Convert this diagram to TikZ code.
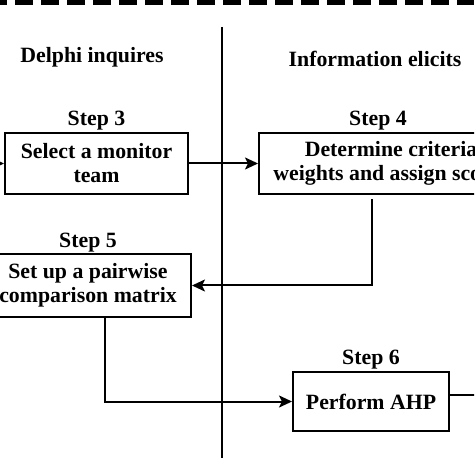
\documentclass[tikz,border=0pt]{standalone}
\usepackage{fontspec}
\setmainfont{Liberation Serif}
\usetikzlibrary{arrows.meta,positioning}

\begin{document}
\begin{tikzpicture}[
    x=0.5pt, y=-0.5pt,
    stepbox/.style={draw, line width=1pt, inner sep=0pt, align=center,
                    minimum height=30.5pt,
                    font=\bfseries\fontsize{10.9}{12}\selectfont},
    steplabel/.style={inner sep=0pt, font=\bfseries\fontsize{10.9}{12}\selectfont},
    heading/.style={inner sep=0pt, font=\bfseries\fontsize{10.9}{12}\selectfont},
    arrow/.style={-{Stealth[length=6.5pt,width=6pt,inset=1.5pt]}, line width=1pt},
  ]

  \useasboundingbox (0,0) rectangle (474,474);
  \clip (0,0) rectangle (474,474);

  % top border and divider
  \coordinate (dl) at (0,2.5);
  \coordinate (dr) at (474,2.5);
  \draw[line width=2.5pt, dash pattern=on 9.15pt off 3.85pt, dash phase=5.5pt]
    (dl) -- (dr);
  \coordinate (divtop) at (222,27);
  \coordinate (divbot) at (222,458);
  \draw[line width=1.3pt] (divtop) -- (divbot);

  \node[heading] (delphi) at (92,57) {Delphi inquires};
  \node[heading] (info) at (375,59) {Information elicits};

  % steps
  \node[stepbox, minimum width=91.5pt] (s3) at (96.5,163.5)
      {Select a monitor\\team};
  \node[stepbox, minimum width=132pt] (s4) at (391,163.5)
      {Determine criteria\\weights and assign scores};
  \node[stepbox, minimum width=103pt, minimum height=31pt] (s5) at (88,285.5)
      {Set up a pairwise\\comparison matrix};
  \node[stepbox, minimum width=78pt, minimum height=29.5pt] (s6) at (371,401.5)
      {Perform AHP};

  \node[steplabel, above=0.5pt of s3] (l3) {Step 3};
  \node[steplabel, above=0.5pt of s4, xshift=-6.5pt] (l4) {Step 4};
  \node[steplabel, above=0.5pt of s5] (l5) {Step 5};
  \node[steplabel, above=0.5pt of s6] (l6) {Step 6};

  % flow
  \coordinate (in) at (-12,163.5);
  \draw[arrow] (in) -- (s3.west);
  \draw[arrow] (s3.east) -- (s4.west);
  \draw[arrow, shorten <=2pt] ([xshift=-9.5pt]s4.south) |- (s5.east);
  \draw[arrow] ([xshift=8.5pt]s5.south) |- (s6.west);
  \coordinate (out) at (480,395);
  \draw[line width=1pt] ([yshift=3.25pt]s6.east) -- (out);

\end{tikzpicture}
\end{document}
